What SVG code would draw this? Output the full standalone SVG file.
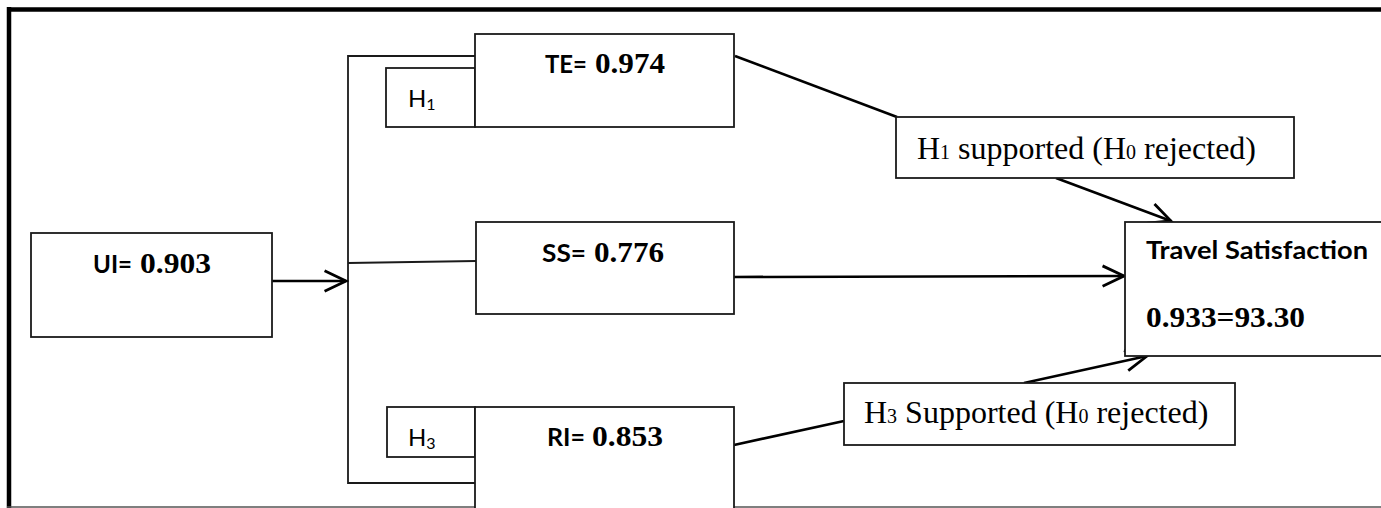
<svg xmlns="http://www.w3.org/2000/svg" width="1381" height="508" viewBox="0 0 1381 508">
<style>
.box{fill:#fff;stroke:#1a1a1a;stroke-width:1.8}
.conn{fill:none;stroke:#000;stroke-width:2.6}
.thin{fill:none;stroke:#1a1a1a;stroke-width:1.8}
.sb{font-family:Lato,"Liberation Sans",sans-serif;font-weight:bold;font-size:24px;fill:#000}
.tb{font-family:"Liberation Serif",serif;font-weight:bold;font-size:30px;fill:#000}
.tr{font-family:"Liberation Serif",serif;font-size:32px;fill:#000}
.sub{font-size:20px}
.hs{font-family:Lato,"Liberation Sans",sans-serif;font-size:24px;fill:#000}
.hsub{font-size:16px}
</style>
<defs>
<marker id="arr" markerUnits="userSpaceOnUse" markerWidth="30" markerHeight="30" viewBox="-24 -12 28 24" refX="0" refY="0" orient="auto">
<path d="M -20 -9.5 L 0 0 L -20 9.5" fill="none" stroke="#000" stroke-width="2.6"/>
</marker>
</defs>
<rect width="1381" height="508" fill="#fff"/>
<g id="frame">
<line x1="7" y1="9.5" x2="1381" y2="9.5" stroke="#000" stroke-width="4.5"/>
<line x1="9" y1="7" x2="9" y2="508" stroke="#000" stroke-width="4.5"/>
<line x1="7" y1="507" x2="1381" y2="507" stroke="#555" stroke-width="1.5"/>
</g>
<g id="connectors">
<polyline class="thin" points="475,56 348,56 348,483 475,483"/>
<line class="thin" x1="348" y1="263" x2="476" y2="261"/>
<line class="conn" x1="272" y1="281" x2="346" y2="281" marker-end="url(#arr)"/>
<line class="conn" x1="735" y1="56" x2="897" y2="117"/>
<line class="conn" x1="1056" y1="178" x2="1171" y2="221" marker-end="url(#arr)"/>
<line class="conn" x1="734" y1="277" x2="1124" y2="276" marker-end="url(#arr)"/>
<line class="conn" x1="734" y1="445" x2="844" y2="421"/>
<line class="conn" x1="1024" y1="383" x2="1147" y2="356" marker-end="url(#arr)"/>
</g>
<g id="node-ui">
<rect class="box" x="31" y="233" width="241" height="104"/>
<text class="sb" x="93" y="273" textLength="39" lengthAdjust="spacingAndGlyphs">UI=</text>
<text class="tb" x="140" y="273" textLength="71" lengthAdjust="spacingAndGlyphs">0.903</text>
</g>
<g id="node-h1">
<rect class="box" x="386" y="68" width="89" height="59"/>
<text class="hs" x="408" y="107">H<tspan class="hsub" dy="3">1</tspan></text>
</g>
<g id="node-te">
<rect class="box" x="475" y="34" width="259" height="93"/>
<text class="sb" x="545" y="73" textLength="42" lengthAdjust="spacingAndGlyphs">TE=</text>
<text class="tb" x="595" y="73" textLength="70" lengthAdjust="spacingAndGlyphs">0.974</text>
</g>
<g id="node-ss">
<rect class="box" x="476" y="222" width="258" height="92"/>
<text class="sb" x="542" y="262" textLength="44" lengthAdjust="spacingAndGlyphs">SS=</text>
<text class="tb" x="594" y="262" textLength="70" lengthAdjust="spacingAndGlyphs">0.776</text>
</g>
<g id="node-h3">
<rect class="box" x="387" y="407" width="88" height="50"/>
<text class="hs" x="408" y="446">H<tspan class="hsub" dy="3">3</tspan></text>
</g>
<g id="node-ri">
<rect class="box" x="475" y="407" width="259" height="115"/>
<text class="sb" x="547" y="446" textLength="38" lengthAdjust="spacingAndGlyphs">RI=</text>
<text class="tb" x="592" y="446" textLength="71" lengthAdjust="spacingAndGlyphs">0.853</text>
</g>
<g id="node-h1-supported">
<rect class="box" x="896" y="117" width="398" height="61"/>
<text class="tr" x="917" y="159">H<tspan class="sub">1</tspan> supported (H<tspan class="sub">0</tspan> rejected)</text>
</g>
<g id="node-h3-supported">
<rect class="box" x="844" y="383" width="391" height="62"/>
<text class="tr" x="864" y="423">H<tspan class="sub">3</tspan> Supported (H<tspan class="sub">0</tspan> rejected)</text>
</g>
<g id="node-travel">
<rect class="box" x="1125" y="222" width="270" height="134"/>
<text class="sb" x="1146" y="259" textLength="222" lengthAdjust="spacingAndGlyphs">Travel Satisfaction</text>
<text class="tb" x="1146" y="327" textLength="159" lengthAdjust="spacingAndGlyphs">0.933=93.30</text>
</g>
</svg>
